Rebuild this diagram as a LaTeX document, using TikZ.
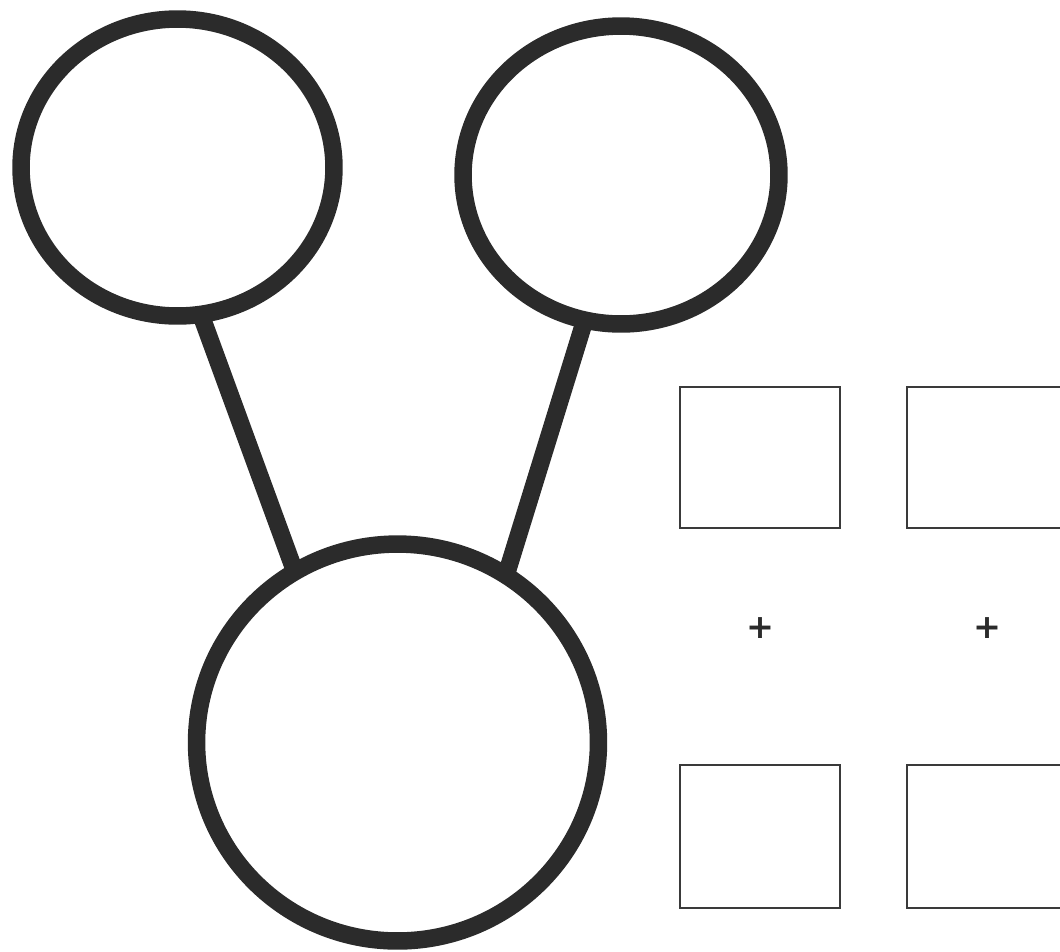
\documentclass[tikz,border=0pt]{standalone}
\usepackage{fontspec}
\usepackage{tikz}
\usetikzlibrary{shapes.geometric}
\newfontfamily\signfont{DejaVu Sans}
\definecolor{ink}{HTML}{2B2B2B}
\definecolor{frame}{HTML}{3A3A3A}

\begin{document}
\begin{tikzpicture}[x=0.02cm,y=-0.02cm,
    ring/.style={ellipse,draw=ink,line width=0.35cm,inner sep=0pt,outer sep=0pt},
    link/.style={draw=ink,line width=0.35cm},
    tile/.style={rectangle,draw=frame,line width=0.04cm,inner sep=0pt,outer sep=0pt,
      minimum width=3.2cm},
    sign/.style={text=ink,font=\signfont\bfseries\fontsize{19}{19}\selectfont,inner sep=0pt}]
  \useasboundingbox (0,0) rectangle (1060,951);
  \clip (0,0) rectangle (1060,951);
  \node[ring,minimum width=6.26cm,minimum height=5.94cm] (tl) at (177.5,167.5) {};
  \node[ring,minimum width=6.32cm,minimum height=5.96cm] (tr) at (621,175) {};
  \node[ring,minimum width=8.04cm,minimum height=7.94cm] (base) at (397.5,742.5) {};
  \draw[link] (tl.-81) -- (base.121);
  \draw[link] (tr.-104) -- (base.57);
  \node[tile,minimum height=2.82cm] (boxA) at (760,457.5) {};
  \node[tile,minimum height=2.82cm] (boxB) at (987,457.5) {};
  \node[tile,minimum height=2.86cm] (boxC) at (760,836.5) {};
  \node[tile,minimum height=2.86cm] (boxD) at (987,836.5) {};
  \node[sign] (plusA) at (760,628) {+};
  \node[sign] (plusB) at (987,628) {+};
\end{tikzpicture}
\end{document}
